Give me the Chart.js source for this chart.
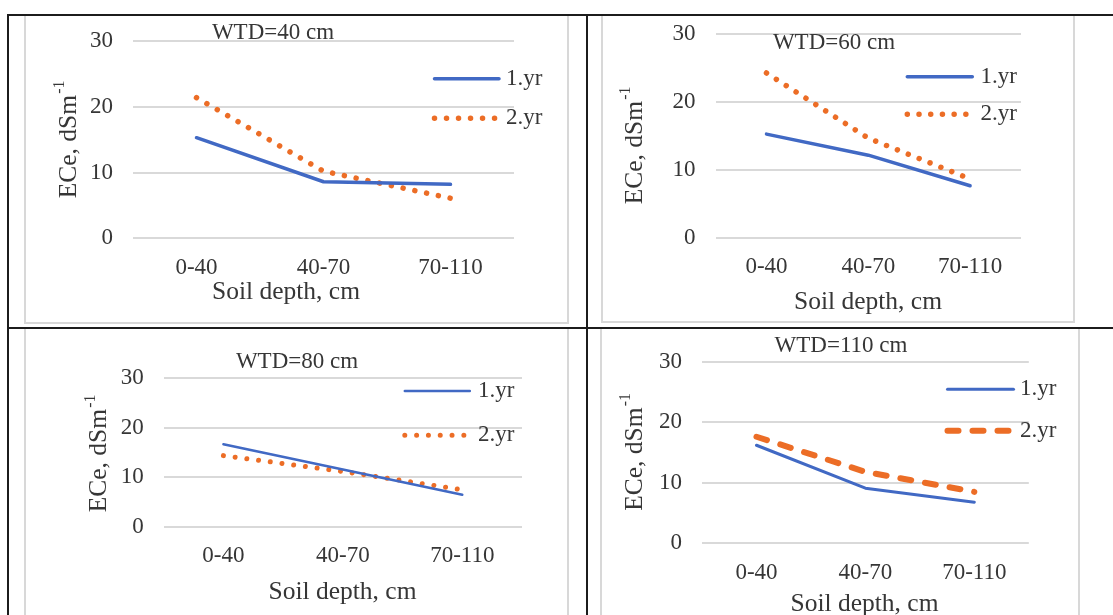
<!DOCTYPE html>
<html><head><meta charset="utf-8">
<script src="https://cdn.jsdelivr.net/npm/chart.js@4.4.1/dist/chart.umd.min.js"></script>
<style>
html,body{margin:0;padding:0;background:#fff;width:1113px;height:615px;overflow:hidden;position:relative}
.box{position:absolute;box-sizing:border-box;border:2px solid #d8d8d8}
.blk{position:absolute;background:#1c1c1c;z-index:5}
canvas{position:absolute;z-index:2}
</style></head><body>
<div class="box" style="left:24px;top:14px;width:545px;height:310px"></div>
<div class="box" style="left:601px;top:14px;width:474px;height:309px"></div>
<div class="box" style="left:24px;top:327px;width:545px;height:310px"></div>
<div class="box" style="left:600px;top:327px;width:480px;height:310px"></div>
<canvas id="c0" width="579" height="313" style="left:8px;top:15px"></canvas>
<canvas id="c1" width="526" height="313" style="left:587px;top:15px"></canvas>
<canvas id="c2" width="579" height="287" style="left:8px;top:328px"></canvas>
<canvas id="c3" width="526" height="287" style="left:587px;top:328px"></canvas>
<div class="blk" style="left:7px;top:14px;width:1106px;height:2px"></div>
<div class="blk" style="left:7px;top:327px;width:1106px;height:2px"></div>
<div class="blk" style="left:7px;top:14px;width:2px;height:601px"></div>
<div class="blk" style="left:586px;top:14px;width:2px;height:601px"></div>
<script>
// ---- data ----
const categories = ['0-40', '40-70', '70-110'];
const seriesLabels = ['1.yr', '2.yr'];
const panelTitles = ['WTD=40 cm', 'WTD=60 cm', 'WTD=80 cm', 'WTD=110 cm'];
const xAxisTitle = 'Soil depth, cm';
const yAxisTitle = 'ECe, dSm';
const yAxisTitleSup = '-1';
const yTickMin = 0, yTickMax = 30, yTickStep = 10;
const yr1_wtd40 = [15.3, 8.6, 8.2];
const yr2_wtd40 = [21.4, 10.2, 6.1];
const yr1_wtd60 = [15.3, 12.2, 7.7];
const yr2_wtd60 = [24.3, 14.7, 8.7];
const yr1_wtd80 = [16.7, 11.6, 6.5];
const yr2_wtd80 = [14.4, 11.2, 7.5];
const yr1_wtd110 = [16.2, 9.1, 6.8];
const yr2_wtd110 = [17.6, 11.8, 8.5];

// ---- styles / layout ----
const FONT = '"Liberation Serif", "Times New Roman", serif';
const TEXT = '#363636';
const BLUE = '#4169c4';
const ORANGE = '#ec6d26';
const TICK_SIZE = 23, TITLE_SIZE = 23, AXIS_SIZE = 25.5;

const panels = [
  { id: 'c0', yr1: yr1_wtd40, yr2: yr2_wtd40, title: panelTitles[0],
    area: { left: 125, right: 506, top: 26, bottom: 223.3 },
    titlePos: [265, 18], xTitlePos: [278, 277.5], yTitlePos: [60.9, 125],
    legend: { x0: 426.5, x1: 491, textX: 498, y: [63.7, 103.3] },
    w1: 3.5, w2: 5.5, dash2: [0.01, 12] },
  { id: 'c1', yr1: yr1_wtd60, yr2: yr2_wtd60, title: panelTitles[1],
    area: { left: 128.6, right: 434, top: 19.3, bottom: 223 },
    titlePos: [247, 28], xTitlePos: [281, 287.5], yTitlePos: [48.5, 131],
    legend: { x0: 320.3, x1: 385.3, textX: 393.6, y: [61.7, 99.3] },
    w1: 3.5, w2: 5.5, dash2: [0.01, 11.7] },
  { id: 'c2', yr1: yr1_wtd80, yr2: yr2_wtd80, title: panelTitles[2],
    area: { left: 155.7, right: 514, top: 50.3, bottom: 199 },
    titlePos: [289, 33.5], xTitlePos: [334.5, 264.5], yTitlePos: [91.7, 126],
    legend: { x0: 396.8, x1: 461.8, textX: 470, y: [63, 107.3] },
    w1: 2.5, w2: 5, dash2: [0.01, 11.8] },
  { id: 'c3', yr1: yr1_wtd110, yr2: yr2_wtd110, title: panelTitles[3],
    area: { left: 115, right: 441.8, top: 33.7, bottom: 215.3 },
    titlePos: [254, 18], xTitlePos: [277.5, 276], yTitlePos: [47.8, 124.5],
    legend: { x0: 360.5, x1: 426.5, textX: 433, y: [61.3, 102.7] },
    w1: 3, w2: 6, dash2: [11, 14] }
];

const decor = {
  id: 'decor',
  afterDraw(chart, args, o) {
    const ctx = chart.ctx;
    ctx.save();
    ctx.fillStyle = TEXT;
    ctx.textBaseline = 'middle';
    ctx.textAlign = 'center';
    ctx.font = TITLE_SIZE + 'px ' + FONT;
    ctx.fillText(o.title, o.titlePos[0], o.titlePos[1]);
    ctx.font = AXIS_SIZE + 'px ' + FONT;
    ctx.fillText(o.xTitle, o.xTitlePos[0], o.xTitlePos[1]);
    // y title with superscript
    ctx.save();
    ctx.translate(o.yTitlePos[0], o.yTitlePos[1]);
    ctx.rotate(-Math.PI / 2);
    ctx.textAlign = 'left';
    ctx.font = AXIS_SIZE + 'px ' + FONT;
    const w1 = ctx.measureText(o.yTitle).width;
    const supSize = AXIS_SIZE * 0.62;
    ctx.font = supSize + 'px ' + FONT;
    const w2 = ctx.measureText(o.yTitleSup).width;
    const start = -(w1 + w2) / 2;
    ctx.font = AXIS_SIZE + 'px ' + FONT;
    ctx.fillText(o.yTitle, start, 0);
    ctx.font = supSize + 'px ' + FONT;
    ctx.fillText(o.yTitleSup, start + w1 + 1, -AXIS_SIZE * 0.36);
    ctx.restore();
    // legend
    ctx.textAlign = 'left';
    ctx.font = TITLE_SIZE + 'px ' + FONT;
    chart.data.datasets.forEach((ds, i) => {
      const y = o.legend.y[i];
      ctx.save();
      ctx.strokeStyle = ds.borderColor;
      ctx.lineWidth = ds.borderWidth;
      ctx.lineCap = ds.borderCapStyle || 'butt';
      ctx.setLineDash(ds.borderDash || []);
      ctx.beginPath();
      ctx.moveTo(o.legend.x0, y);
      ctx.lineTo(o.legend.x1, y);
      ctx.stroke();
      ctx.restore();
      ctx.fillText(ds.label, o.legend.textX, y);
    });
    ctx.restore();
  }
};

panels.forEach(p => {
  const cv = document.getElementById(p.id);
  const W = cv.width, H = cv.height;
  const XH = 40;
  new Chart(cv, {
    type: 'line',
    data: {
      labels: categories,
      datasets: [
        { label: seriesLabels[0], data: p.yr1, borderColor: BLUE, borderWidth: p.w1,
          borderCapStyle: 'round', borderJoinStyle: 'round', pointRadius: 0, tension: 0, fill: false },
        { label: seriesLabels[1], data: p.yr2, borderColor: ORANGE, borderWidth: p.w2,
          borderDash: p.dash2, borderCapStyle: 'round', borderJoinStyle: 'round', pointRadius: 0, tension: 0, fill: false }
      ]
    },
    options: {
      responsive: false, animation: false, devicePixelRatio: 1,
      layout: { padding: { left: 0, top: p.area.top, right: W - p.area.right, bottom: H - p.area.bottom - XH } },
      plugins: {
        legend: { display: false }, tooltip: { enabled: false }, title: { display: false },
        decor: { title: p.title, titlePos: p.titlePos, xTitle: xAxisTitle, xTitlePos: p.xTitlePos,
          yTitle: yAxisTitle, yTitleSup: yAxisTitleSup, yTitlePos: p.yTitlePos, legend: p.legend }
      },
      scales: {
        x: {
          type: 'category', offset: true,
          grid: { display: false, drawTicks: false },
          border: { display: false },
          ticks: { color: TEXT, font: { family: FONT, size: TICK_SIZE }, padding: 15.5, maxRotation: 0, autoSkip: false },
          afterFit: s => { s.height = XH; s.paddingLeft = 0; s.paddingRight = 0; s.paddingTop = 0; s.paddingBottom = 0; }
        },
        y: {
          min: yTickMin, max: yTickMax,
          grid: { color: '#d9d9d9', lineWidth: 2, drawTicks: false },
          border: { display: false },
          ticks: { stepSize: yTickStep, color: TEXT, font: { family: FONT, size: TICK_SIZE }, padding: 20 },
          afterFit: s => { s.width = p.area.left; s.paddingTop = 0; s.paddingBottom = 0; s.paddingLeft = 0; s.paddingRight = 0; }
        }
      }
    },
    plugins: [decor]
  });
});
</script>
</body></html>
